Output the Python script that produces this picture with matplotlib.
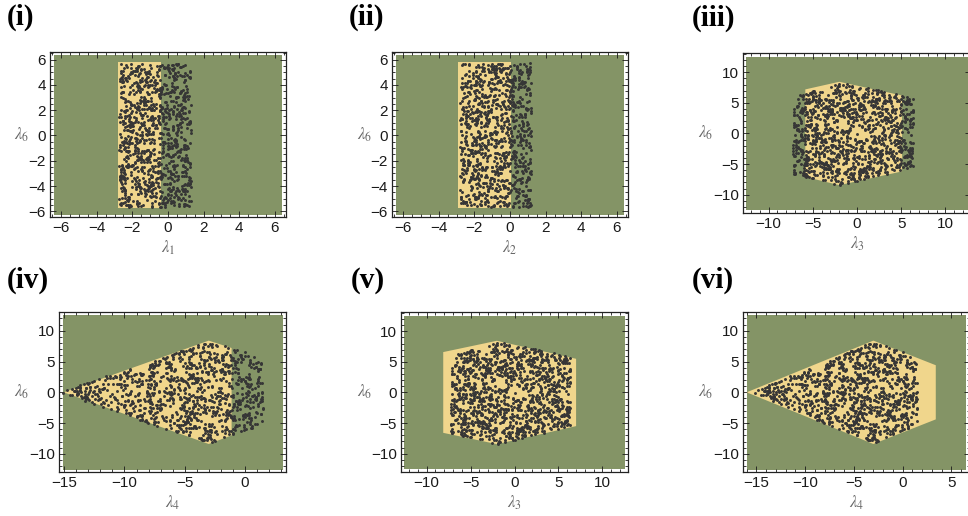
import numpy as np
import matplotlib
matplotlib.use("Agg")
import matplotlib.pyplot as plt
from matplotlib.patches import Rectangle, Polygon
from matplotlib.path import Path
from matplotlib.ticker import MultipleLocator

plt.rcParams['mathtext.fontset'] = 'stix'
plt.rcParams['font.family'] = ['Liberation Sans', 'DejaVu Sans']

W, H = 968, 516

GREEN = '#849466'
TAN = '#f0d68c'
DOT = '#363636'

tags = ['(i)', '(ii)', '(iii)', '(iv)', '(v)', '(vi)']
xnames = [r'$\lambda_1$', r'$\lambda_2$', r'$\lambda_3$', r'$\lambda_4$', r'$\lambda_3$', r'$\lambda_4$']
yname = r'$\lambda_6$'

# background (green) boxes: x0, x1, y0, y1
box_i = (-6.4, 6.42, -6.3, 6.35)
box_ii = (-6.4, 6.42, -6.3, 6.35)
box_iii = (-12.57, 12.57, -12.57, 12.57)
box_iv = (-15.08, 3.13, -12.57, 12.57)
box_v = (-12.57, 12.57, -12.57, 12.57)
box_vi = (-15.96, 6.47, -12.57, 12.57)

# plot ranges: x0, x1, y0, y1
lim_i = (-6.62, 6.62, -6.45, 6.6)
lim_ii = (-6.62, 6.62, -6.45, 6.6)
lim_iii = (-12.9, 12.9, -13.0, 13.15)
lim_iv = (-15.44, 3.42, -12.95, 13.05)
lim_v = (-12.9, 12.9, -13.0, 13.15)
lim_vi = (-16.37, 6.91, -12.95, 13.05)

# allowed (tan) regions
tan_i = [(-2.78, -5.7), (-0.38, -5.7), (-0.38, 5.78), (-2.78, 5.78)]
tan_ii = [(-2.9, -5.7), (0.08, -5.7), (0.08, 5.78), (-2.9, 5.78)]
tan_iii = [(-5.85, -7.1), (-2.0, -8.45), (5.1, -6.2), (5.1, 6.2), (-2.0, 8.45), (-5.85, 7.2)]
tan_iv = [(-15.05, 0.0), (-3.0, -8.4), (-1.1, -7.0), (-1.1, 7.2), (-3.0, 8.4)]
tan_v = [(-8.1, -6.6), (-2.0, -8.45), (7.0, -5.5), (7.0, 5.5), (-2.0, 8.45), (-8.1, 6.6)]
tan_vi = [(-16.0, 0.0), (-3.0, -8.4), (3.4, -4.4), (3.4, 4.4), (-3.0, 8.4)]

# outlines of the sampled point sets
cloud_1 = [(-2.75, -5.7), (1.3, -5.7), (1.3, 5.7), (-2.75, 5.7)]
cloud_2 = [(-2.8, -5.7), (1.2, -5.7), (1.2, 5.7), (-2.8, 5.7)]
cloud_3 = [(-7.25, -6.6), (-2.0, -8.4), (6.4, -5.6), (6.4, 5.8), (-2.0, 8.4), (-7.25, 6.0)]
cloud_4 = [(-15.5, 0.0), (-3.0, -8.3), (1.5, -5.3), (1.5, 5.7), (-3.0, 8.3)]
n_points = [1000, 1000, 1150, 1000]

major_step = [2, 2, 5, 5, 5, 5]
minor_step = [0.5, 0.5, 1, 1, 1, 1]

# axes frames in pixels: left, top, width, height
frames = [(50, 52, 236, 165), (392, 52, 236, 165), (743, 53, 228, 160),
          (59, 312, 227, 160), (401, 312, 227, 160), (743, 312, 227, 160)]
tag_pos = [(7, 17), (349, 17), (692, 18), (7, 280), (351, 280), (692, 280)]
ylab_x = [21.5, 365, 706, 21.5, 365, 706]


def sample(poly, n, rng):
    pts = np.array(poly)
    path = Path(pts)
    lo, hi = pts.min(axis=0), pts.max(axis=0)
    out = np.empty((0, 2))
    while len(out) < n:
        cand = rng.uniform(lo, hi, size=(n * 2, 2))
        out = np.vstack([out, cand[path.contains_points(cand)]])
    return out[:n]


rng = np.random.default_rng(11)
pts_1 = sample(cloud_1, n_points[0], rng)
pts_2 = sample(cloud_2, n_points[1], rng)
pts_3 = sample(cloud_3, n_points[2], rng)
pts_4 = sample(cloud_4, n_points[3], rng)

boxes = [box_i, box_ii, box_iii, box_iv, box_v, box_vi]
lims = [lim_i, lim_ii, lim_iii, lim_iv, lim_v, lim_vi]
tans = [tan_i, tan_ii, tan_iii, tan_iv, tan_v, tan_vi]
clouds = [pts_1, pts_2, pts_3, pts_4, pts_3, pts_4]

fig = plt.figure(figsize=(W / 100, H / 100), dpi=100)

for k in range(6):
    l, t, w, h = frames[k]
    ax = fig.add_axes([l / W, 1 - (t + h) / H, w / W, h / H])
    x0, x1, y0, y1 = boxes[k]
    ax.add_patch(Rectangle((x0, y0), x1 - x0, y1 - y0, color=GREEN, lw=0, zorder=1))
    ax.add_patch(Polygon(tans[k], closed=True, color=TAN, lw=0, zorder=2))
    p = clouds[k]
    ax.scatter(p[:, 0], p[:, 1], s=4.5, color=DOT, lw=0, zorder=3)

    ax.set_xlim(lims[k][0], lims[k][1])
    ax.set_ylim(lims[k][2], lims[k][3])
    ax.xaxis.set_major_locator(MultipleLocator(major_step[k]))
    ax.yaxis.set_major_locator(MultipleLocator(major_step[k]))
    ax.xaxis.set_minor_locator(MultipleLocator(minor_step[k]))
    ax.yaxis.set_minor_locator(MultipleLocator(minor_step[k]))
    ax.tick_params(which='both', direction='in', top=True, right=True,
                   width=0.6, labelsize=11, pad=3, colors='#1a1a1a')
    ax.tick_params(which='major', length=4)
    ax.tick_params(which='minor', length=2)
    for s in ax.spines.values():
        s.set_linewidth(0.9)
        s.set_color('#222222')

    fig.text(l + w / 2, H - (t + h + 31), xnames[k], fontsize=12, color='#666666',
             ha='center', va='center', transform=None)
    fig.text(ylab_x[k], H - (t + h / 2), yname, fontsize=12, color='#666666',
             ha='center', va='center', transform=None)
    tx, ty = tag_pos[k]
    fig.text(tx, H - ty, tags[k], fontsize=21, fontweight='bold',
             family='Liberation Serif', ha='left', va='center', transform=None)

fig.savefig('out.png', dpi=100)
